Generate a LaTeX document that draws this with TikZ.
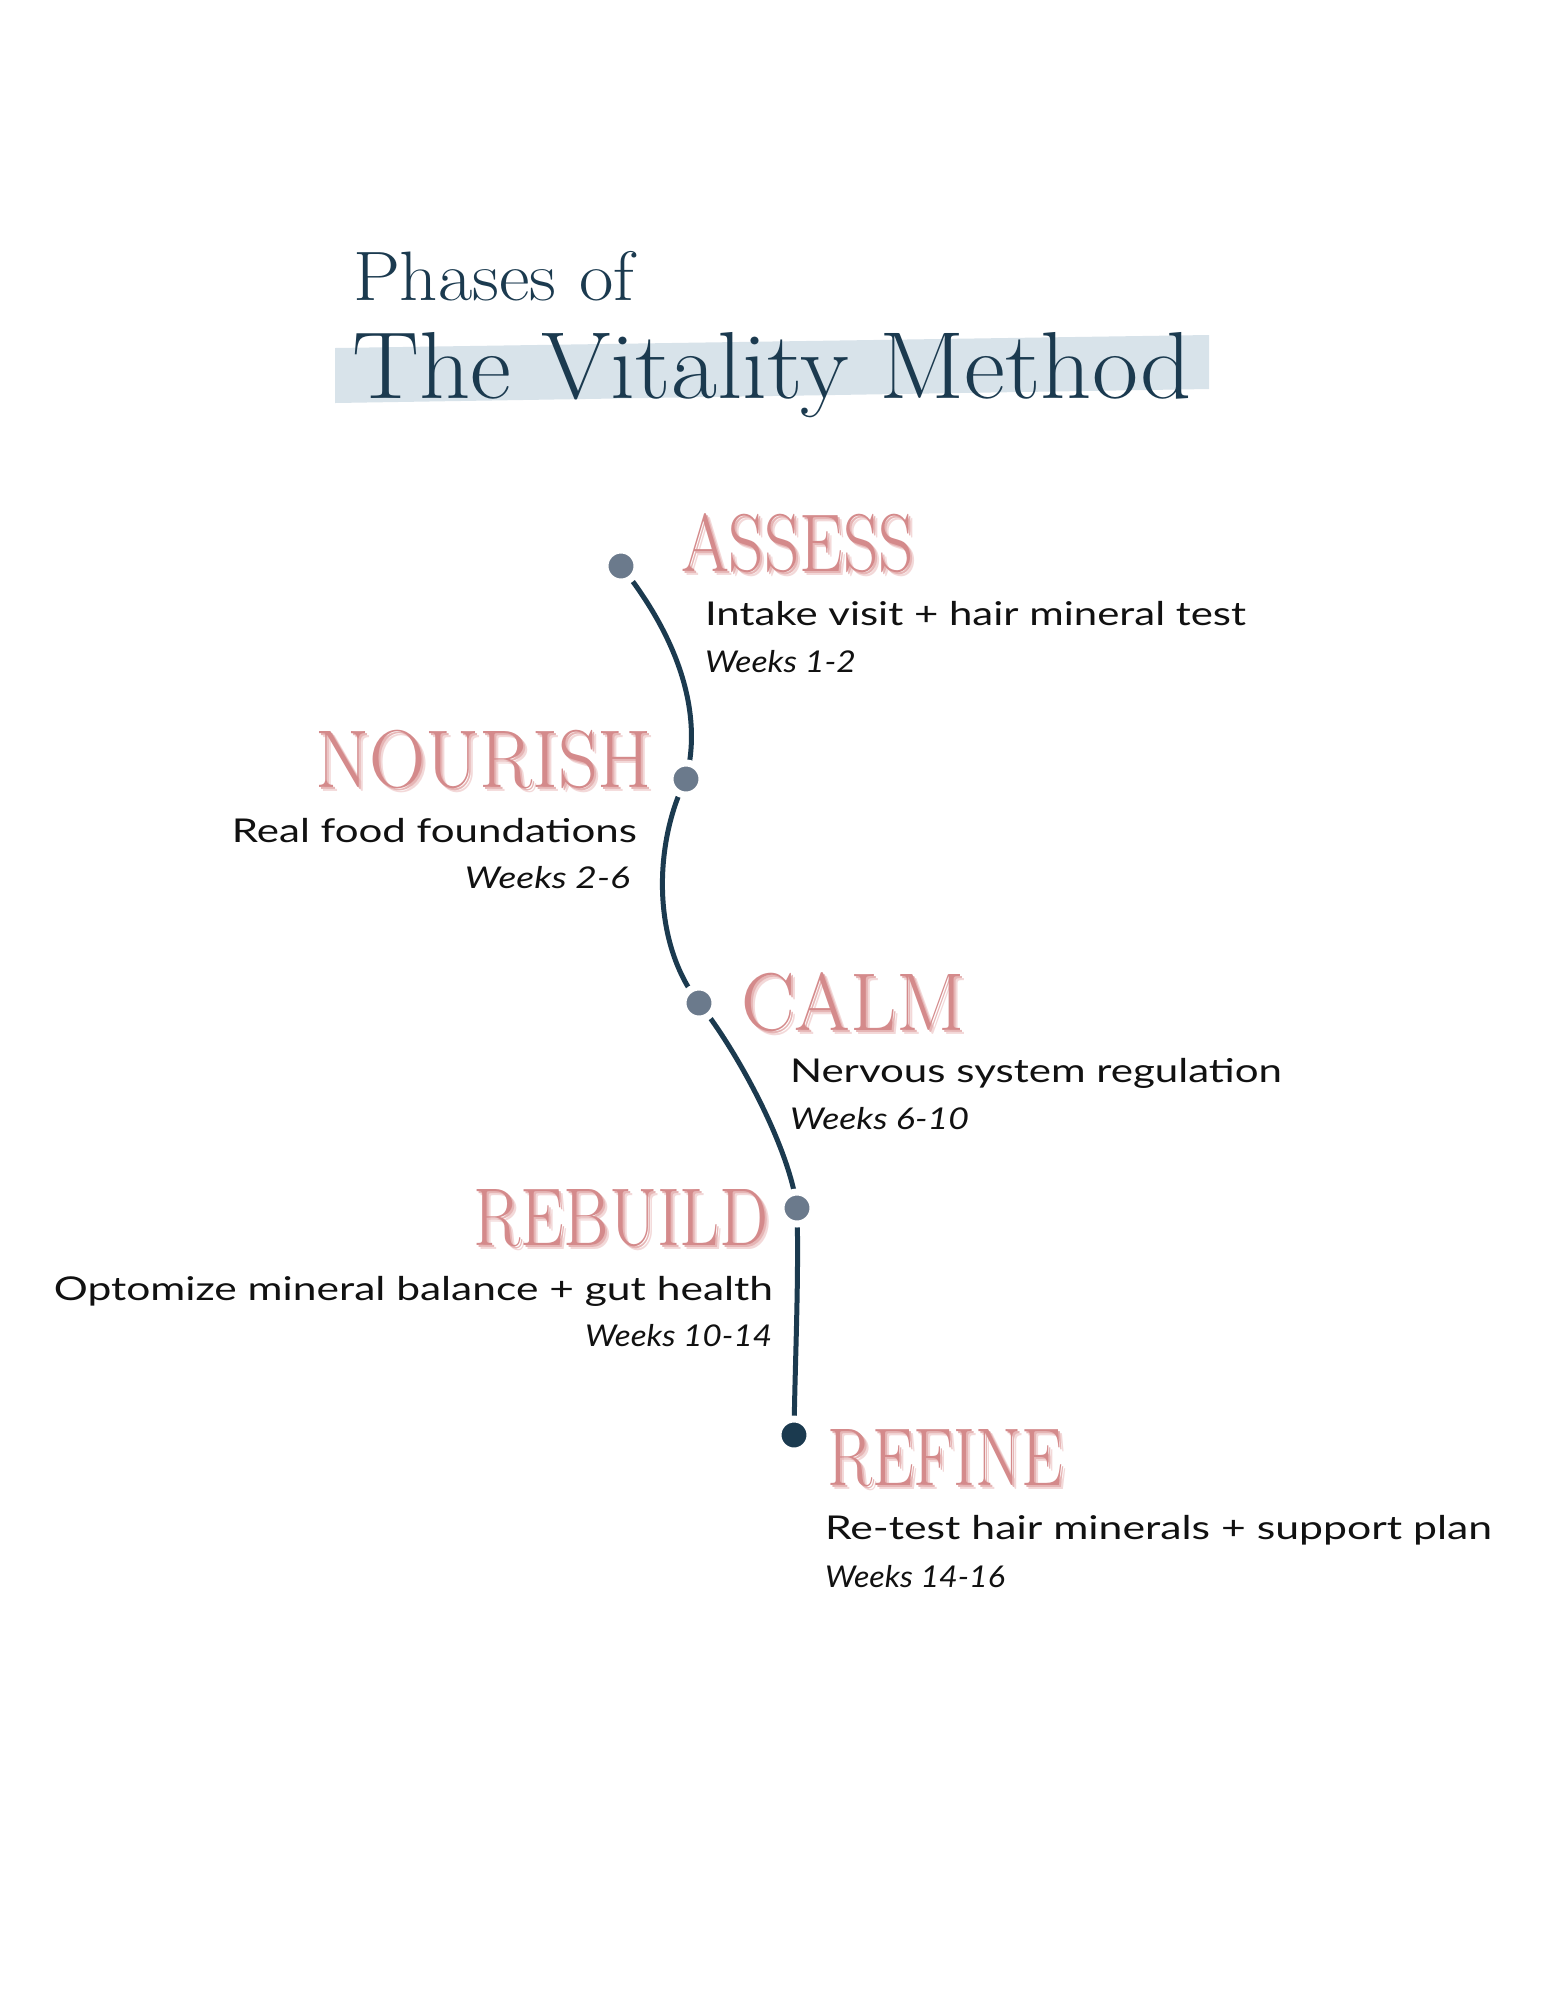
\documentclass[tikz,border=0pt]{standalone}
\usepackage{fontspec}
\usepackage{graphicx}
\usetikzlibrary{backgrounds}
\newfontfamily\bodyfont{Lato}
\definecolor{navy}{HTML}{1B3A4F}
\definecolor{dotgray}{HTML}{6B7A8C}
\definecolor{rose}{HTML}{D48A8B}
\definecolor{roseA}{HTML}{E6B5B5}
\definecolor{roseB}{HTML}{F3D8D8}
\definecolor{bandblue}{HTML}{D8E3EA}
\definecolor{ink}{HTML}{111111}
\newcommand\wfit[2]{\resizebox{#1}{\height}{#2}}
\newcommand\headtxt[2]{\fontsize{41}{41}\selectfont\wfit{#1}{#2}}
\newcommand\shadowed[2]{%
  \rlap{\hspace{2pt}\raisebox{-2pt}{\textcolor{roseB}{\headtxt{#1}{#2}}}}%
  \rlap{\hspace{1pt}\raisebox{-1pt}{\textcolor{roseA}{\headtxt{#1}{#2}}}}%
  \textcolor{rose}{\headtxt{#1}{#2}}}
\newcommand\bodytxt[2]{\bodyfont\fontsize{16.4}{18}\selectfont\wfit{#1}{#2}}
\newcommand\weektxt[2]{\bodyfont\itshape\fontsize{15}{17}\selectfont\wfit{#1}{#2}}
\begin{document}
\begin{tikzpicture}[x=0.5pt,y=-0.5pt,
  txt/.style={inner sep=0pt, outer sep=0pt},
  dot/.style={circle, fill=dotgray, draw=white, line width=3.5pt, minimum size=16pt, inner sep=0pt},
  lastdot/.style={dot, fill=navy},
  conn/.style={draw=navy, line width=2.5pt, line cap=round}]
\useasboundingbox (0,0) rectangle (1545,1999);
\begin{scope}[on background layer]
  \fill[white] (0,0) rectangle (1545,1999);
  \fill[bandblue] (335,348) -- (1209,335) -- (1209,389) -- (335,403) -- cycle;
\end{scope}
% title
\node[txt, anchor=base west, text=navy] (title1) at (353,300) {\fontsize{35}{35}\selectfont\wfit{140.5pt}{Phases of}};
\node[txt, anchor=base west, text=navy] (title2) at (352,398) {\fontsize{47.6}{48}\selectfont\wfit{420pt}{The Vitality Method}};
% dots
\node[dot] (d1) at (621,566) {};
\node[dot] (d2) at (686,779) {};
\node[dot] (d3) at (699,1003) {};
\node[dot] (d4) at (797,1208) {};
\node[lastdot] (d5) at (794,1435) {};
% connectors
\begin{scope}[on background layer]
  \draw[conn] (d1.center) .. controls (680,640) and (703,715) .. (d2.center);
  \draw[conn] (d2.center) .. controls (655,840) and (650,940) .. (d3.center);
  \draw[conn] (d3.center) .. controls (740,1055) and (790,1150) .. (d4.center);
  \draw[conn] (d4.center) .. controls (799,1280) and (795,1360) .. (d5.center);
\end{scope}
% phases
\node[txt, anchor=base west] (assess) at (681,571) {\shadowed{116.5pt}{ASSESS}};
\node[txt, anchor=base west, text=ink] (assess-d) at (705,625) {\bodytxt{270.5pt}{Intake visit + hair mineral test}};
\node[txt, anchor=base west, text=ink] (assess-w) at (705,672) {\weektxt{75.5pt}{Weeks 1-2}};

\node[txt, anchor=base west] (nourish) at (315,787) {\shadowed{168.5pt}{NOURISH}};
\node[txt, anchor=base east, text=ink] (nourish-d) at (637,842) {\bodytxt{202.5pt}{Real food foundations}};
\node[txt, anchor=base east, text=ink] (nourish-w) at (630,888) {\weektxt{82.5pt}{Weeks 2-6}};

\node[txt, anchor=base west] (calm) at (741,1030) {\shadowed{112pt}{CALM}};
\node[txt, anchor=base west, text=ink] (calm-d) at (790,1082) {\bodytxt{246pt}{Nervous system regulation}};
\node[txt, anchor=base west, text=ink] (calm-w) at (790,1129) {\weektxt{89.5pt}{Weeks 6-10}};

\node[txt, anchor=base west] (rebuild) at (473,1245) {\shadowed{148pt}{REBUILD}};
\node[txt, anchor=base east, text=ink] (rebuild-d) at (773,1300) {\bodytxt{359.5pt}{Optomize mineral balance + gut health}};
\node[txt, anchor=base east, text=ink] (rebuild-w) at (772,1346) {\weektxt{93.5pt}{Weeks 10-14}};

\node[txt, anchor=base west] (refine) at (827,1485) {\shadowed{118pt}{REFINE}};
\node[txt, anchor=base west, text=ink] (refine-d) at (825,1539) {\bodytxt{333.5pt}{Re-test hair minerals + support plan}};
\node[txt, anchor=base west, text=ink] (refine-w) at (825,1587) {\weektxt{90pt}{Weeks 14-16}};
\end{tikzpicture}
\end{document}
